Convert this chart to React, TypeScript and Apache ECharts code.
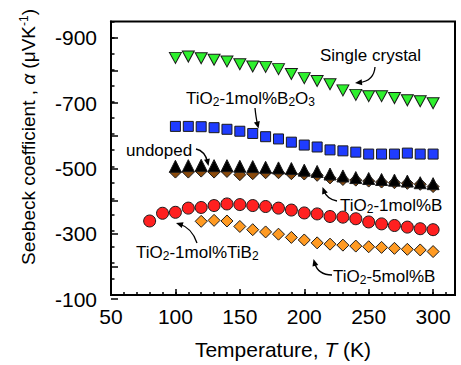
import React, { useEffect, useRef } from 'react';
import * as echarts from 'echarts';

// ---- data (Seebeck coefficient, µV/K, plotted as negative numbers) ----
const temps = [100, 110, 120, 130, 140, 150, 160, 170, 180, 190, 200, 210, 220, 230, 240, 250, 260, 270, 280, 290, 300];
const singleCrystal = [-837, -841, -836, -831, -826, -817, -810, -809, -802, -787, -774, -765, -755, -736, -722, -718, -718, -712, -705, -702, -696];
const b2o3 = [-624, -624, -623, -620, -615, -609, -602, -592, -585, -575, -566, -560, -551, -548, -544, -538, -538, -538, -541, -538, -538];
const undoped = [-500, -502, -503, -502, -502, -500, -499, -497, -495, -493, -488, -484, -476, -470, -465, -462, -459, -457, -454, -449, -446];
const b1 = [-482, -482, -485, -482, -484, -474, -477, -480, -480, -477, -476, -472, -464, -459, -457, -454, -451, -449, -447, -444, -437];
const tempsTiB2 = [80, 90, 100, 110, 120, 130, 140, 150, 160, 170, 180, 190, 200, 210, 220, 230, 240, 250, 260, 270, 280, 290, 300];
const tib2 = [-330, -354, -357, -370, -372, -378, -383, -381, -378, -375, -370, -364, -355, -352, -344, -342, -337, -327, -321, -316, -311, -306, -303];
const temps5B = [120, 130, 140, 150, 160, 170, 180, 190, 200, 210, 220, 230, 240, 250, 260, 270, 280, 290, 300];
const b5 = [-329, -332, -330, -313, -303, -296, -289, -279, -271, -262, -258, -255, -252, -250, -248, -245, -242, -240, -235];
const yTickLabels = ['-900', '-700', '-500', '-300', '-100'];

const FONT = '"Liberation Sans", Arial, Helvetica, sans-serif';

const pairs = (xs: number[], ys: number[]) => xs.map((x, i) => [x, ys[i]]);

function arrow(x1: number, y1: number, cx: number, cy: number, x2: number, y2: number) {
  const dx = x2 - cx;
  const dy = y2 - cy;
  const len = Math.sqrt(dx * dx + dy * dy) || 1;
  const ux = dx / len;
  const uy = dy / len;
  const L = 7;
  const W = 3;
  const bx = x2 - ux * L;
  const by = y2 - uy * L;
  return [
    {
      type: 'bezierCurve',
      shape: { x1, y1, cpx1: cx, cpy1: cy, x2: x2 - ux * L * 0.6, y2: y2 - uy * L * 0.6 },
      style: { stroke: '#000', lineWidth: 1.3, fill: null },
      silent: true,
    },
    {
      type: 'polygon',
      shape: { points: [[x2, y2], [bx - uy * W, by + ux * W], [bx + uy * W, by - ux * W]] },
      style: { fill: '#000' },
      silent: true,
    },
  ];
}

function label(text: string, x: number, y: number) {
  return {
    type: 'text',
    x,
    y,
    silent: true,
    style: {
      text,
      fontSize: 17,
      fontFamily: FONT,
      fill: '#000',
      align: 'left',
      textAlign: 'left',
      verticalAlign: 'middle',
      textVerticalAlign: 'middle',
      rich: {
        sub: { fontSize: 12, fontFamily: FONT, fill: '#000', padding: [7, 0, 0, 0] },
      },
    },
  };
}

export default function App() {
  const ref = useRef<HTMLDivElement>(null);
  useEffect(() => {
    if (!ref.current) return;
    const chart = echarts.init(ref.current, null, { renderer: 'svg' });
    const gTop = 21.5;
    const gBottom = 66;
    const plotH = 365 - gBottom - gTop;
    const g2Top = gTop + (plotH * 50) / 850;
    const tickStyle = { color: '#000', width: 1.5 };
    const mk = (name: string, data: number[][], symbol: string, size: any, color: string, rotate = 0) => ({
      name,
      type: 'scatter',
      xAxisIndex: 0,
      yAxisIndex: 0,
      data,
      symbol,
      symbolSize: size,
      symbolRotate: rotate,
      itemStyle: { color, borderColor: '#1a1a1a', borderWidth: 1, opacity: 1 },
      emphasis: { disabled: true },
    });
    chart.setOption({
      animation: false,
      backgroundColor: '#fff',
      textStyle: { fontFamily: FONT },
      grid: [
        { left: 111, top: gTop, right: 6, bottom: gBottom, show: true, borderColor: '#000', borderWidth: 2, backgroundColor: 'transparent' },
        { left: 111, top: g2Top, right: 6, bottom: gBottom, show: false },
      ],
      xAxis: [
        {
          gridIndex: 0, type: 'value', position: 'bottom', min: 50, max: 317, interval: 10,
          axisLine: { show: true, onZero: false, lineStyle: { color: '#000', width: 2 } },
          axisTick: { show: true, inside: true, length: 3, lineStyle: tickStyle },
          axisLabel: { show: false }, splitLine: { show: false },
        },
        {
          gridIndex: 0, type: 'value', position: 'bottom', min: 50, max: 317, interval: 50,
          axisLine: { show: false, onZero: false },
          axisTick: { show: true, inside: true, length: 6, lineStyle: tickStyle },
          axisLabel: { fontSize: 21, color: '#000', margin: 11, fontFamily: FONT, showMaxLabel: false },
          splitLine: { show: false },
          name: 'Temperature, {i|T} (K)',
          nameLocation: 'middle',
          nameGap: 44,
          nameTextStyle: {
            fontSize: 21, color: '#000', fontFamily: FONT,
            rich: { i: { fontSize: 21, fontStyle: 'italic', fontFamily: FONT, color: '#000' } },
          },
        },
        { gridIndex: 1, type: 'value', min: 50, max: 317, show: false },
      ],
      yAxis: [
        {
          gridIndex: 0, type: 'value', inverse: true, min: -950, max: -100, interval: 50,
          axisLine: { show: true, onZero: false, lineStyle: { color: '#000', width: 2 } },
          axisTick: { show: true, inside: true, length: 3.5, lineStyle: tickStyle },
          axisLabel: { show: false }, splitLine: { show: false },
        },
        {
          gridIndex: 1, type: 'value', inverse: true, min: -900, max: -100, interval: 100,
          axisLine: { show: false, onZero: false },
          axisTick: { show: true, inside: true, length: 7, lineStyle: tickStyle },
          axisLabel: {
            fontSize: 21, color: '#000', margin: 14, fontFamily: FONT,
            formatter: (v: number) => (yTickLabels.includes(String(v)) ? String(v) : ''),
          },
          splitLine: { show: false },
        },
      ],
      series: [
        mk('Single crystal', pairs(temps, singleCrystal), 'triangle', [12, 11], '#2ef02e', 180),
        mk('TiO2-1mol%B2O3', pairs(temps, b2o3), 'rect', [10, 10], '#1f3cff'),
        mk('TiO2-1mol%B', pairs(temps, b1), 'diamond', [12, 12], '#8a4a0c'),
        mk('undoped', pairs(temps, undoped), 'triangle', [12, 12], '#000000'),
        mk('TiO2-1mol%TiB2', pairs(tempsTiB2, tib2), 'circle', 12, '#ff2020'),
        mk('TiO2-5mol%B', pairs(temps5B, b5), 'diamond', [12, 12], '#ff9a22'),
      ],
      graphic: [
        {
          type: 'text',
          x: 28,
          y: 137,
          rotation: Math.PI / 2,
          silent: true,
          style: {
            text: 'Seebeck coefficient , {i|α} (μVK{sup|-1})',
            fontSize: 19,
            fontFamily: FONT,
            fill: '#000',
            align: 'center',
            textAlign: 'center',
            verticalAlign: 'middle',
            textVerticalAlign: 'middle',
            rich: {
              i: { fontSize: 19, fontStyle: 'italic', fontFamily: FONT, fill: '#000' },
              sup: { fontSize: 12, fontFamily: FONT, fill: '#000', padding: [0, 0, 8, 0] },
            },
          },
        },
        label('Single crystal', 320, 55),
        ...arrow(375, 67, 374, 81, 355, 83),
        label('TiO{sub|2}-1mol%B{sub|2}O{sub|3}', 186, 98),
        ...arrow(255, 108, 256, 118, 258.5, 128.5),
        label('undoped', 126, 150),
        ...arrow(196, 149, 205, 151, 208.5, 166),
        label('TiO{sub|2}-1mol%B', 340, 205),
        ...arrow(337, 201, 327, 199, 322.5, 187),
        label('TiO{sub|2}-1mol%TiB{sub|2}', 136, 252),
        ...arrow(197, 243, 192, 228, 176, 223),
        label('TiO{sub|2}-5mol%B', 333, 276),
        ...arrow(332, 275, 318, 275, 313.5, 259),
      ],
    });
    return () => chart.dispose();
  }, []);
  return <div ref={ref} style={{ position: 'fixed', left: 0, top: 0, width: 461, height: 365, background: '#fff' }} />;
}
